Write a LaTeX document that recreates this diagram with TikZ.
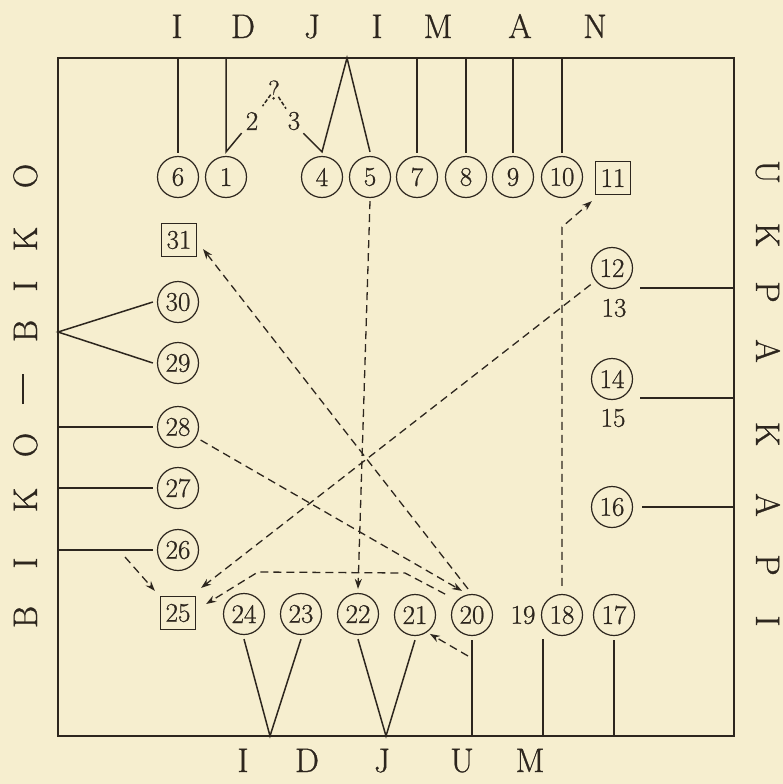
\documentclass[tikz,border=0pt]{standalone}
\usepackage{fontspec}
\newfontfamily\inkfont{Latin Modern Roman}[FakeBold=0.8,Ligatures=TeX]
\usetikzlibrary{arrows.meta,calc}
\definecolor{paper}{RGB}{246,238,207}
\definecolor{ink}{RGB}{45,38,30}
\begin{document}
\begin{tikzpicture}[x=1pt,y=-1pt,
  every node/.style={text=ink},
  circ/.style={circle,draw=ink,line width=1.2pt,minimum size=41pt,inner sep=0pt,font=\inkfont\fontsize{27}{27}\selectfont},
  sq/.style={rectangle,draw=ink,line width=1.2pt,minimum width=35pt,minimum height=33pt,inner sep=0pt,font=\inkfont\fontsize{27}{27}\selectfont},
  num/.style={inner sep=0pt,font=\inkfont\fontsize{27}{27}\selectfont},
  big/.style={inner sep=0pt,font=\inkfont\fontsize{34}{34}\selectfont},
  sline/.style={draw=ink,line width=1.5pt},
  dline/.style={draw=ink,line width=1.3pt,dash pattern=on 8pt off 5pt},
  arr/.style={dline,-{Stealth[length=10pt,width=7pt]}},
]
\fill[paper] (0,0) rectangle (783,784);
\useasboundingbox (0,0) rectangle (783,784);
\node[draw=ink,line width=2pt,minimum width=676pt,minimum height=678pt,inner sep=0pt,outer sep=0pt] (frame) at (396,397) {};

% border lettering
\foreach \l/\x [count=\i] in {I/177,D/243,J/312,I/377,M/438,A/520,N/595}
  \node[big,anchor=base] (T\i) at (\x,38) {\l};
\foreach \l/\x [count=\i] in {I/243,D/307,J/382,U/462,M/530}
  \node[big,anchor=base] (B\i) at (\x,772) {\l};
\foreach \l/\y [count=\i] in {B/617,I/563,K/500,O/445,{\rule[13pt]{30pt}{1.8pt}}/389,B/331,I/286,K/239,O/176}
  \node[big,anchor=base,rotate=90] (L\i) at (37,\y) {\l};
\foreach \l/\y [count=\i] in {U/172,K/235,P/292,A/351,K/434,A/505,P/565,I/621}
  \node[big,anchor=base,rotate=-90] (R\i) at (756,\y) {\l};

% top row
\node[circ] (n6) at (178,177) {6};
\node[circ] (n1) at (226,177) {1};
\node[circ] (n4) at (322,177) {4};
\node[circ] (n5) at (370,177) {5};
\node[circ] (n7) at (417,177) {7};
\node[circ] (n8) at (466,177) {8};
\node[circ] (n9) at (513,177) {9};
\node[circ] (n10) at (562,177) {10};
\node[sq] (n11) at (613,178) {11};
\node[num] (q2) at (252,121) {2};
\node[num] (qq) at (274,90) {?};
\node[num] (q3) at (294,121) {3};

% left column
\node[sq] (n31) at (179,240) {31};
\node[circ] (n30) at (178,302) {30};
\node[circ] (n29) at (178,363) {29};
\node[circ] (n28) at (178,427) {28};
\node[circ] (n27) at (178,488) {27};
\node[circ] (n26) at (178,550) {26};
\node[sq] (n25) at (178,613) {25};

% bottom row
\node[circ] (n24) at (244,614) {24};
\node[circ] (n23) at (301,614) {23};
\node[circ] (n22) at (358,614) {22};
\node[circ] (n21) at (415,615) {21};
\node[circ] (n20) at (472,615) {20};
\node[num] (t19) at (523,615) {19};
\node[circ] (n18) at (562,615) {18};
\node[circ] (n17) at (614,615) {17};

% right column
\node[circ] (n12) at (612,268) {12};
\node[num] (t13) at (614,308) {13};
\node[circ] (n14) at (612,379) {14};
\node[num] (t15) at (613,418) {15};
\node[circ] (n16) at (612,507) {16};

% coordinates
\coordinate (apT) at (347,58);
\coordinate (vL) at (58,332);
\coordinate (apB1) at (270,736);
\coordinate (apB2) at (386,736);
\coordinate (c19) at (543,639);
\coordinate (c12) at (640,288);
\coordinate (c14) at (640,398);
\coordinate (b18) at (562,227);
\coordinate (c26) at (125,557);
\coordinate (h1) at (405,573);
\coordinate (h2) at (258,572);
\coordinate (c20) at (468,656);

% solid connectors, top
\foreach \n in {n6,n7,n8,n9,n10}
  \draw[sline] (\n.north |- frame.north) -- ([yshift=3pt]\n.north);
\draw[sline] (n1.north |- frame.north) -- ([yshift=4pt]n1.north) -- ([xshift=-4pt,yshift=-3pt]q2.south west);
\draw[sline] ([xshift=3pt,yshift=-3pt]q3.south east) -- ([yshift=4pt]n4.north) -- (apT) -- ([yshift=4pt]n5.north);
\draw[sline,dash pattern=on 4pt off 2pt] ($(qq)!0.15!(q2)$) -- ($(qq)!0.52!(q2)$);
\draw[sline,dash pattern=on 4pt off 2pt] ($(qq)!0.22!(q3)$) -- ($(qq)!0.6!(q3)$);

% solid connectors, left
\draw[sline] ([xshift=-4pt]n30.west) -- (vL) -- ([xshift=-4pt]n29.west);
\foreach \n in {n28,n27,n26}
  \draw[sline] (\n.west -| frame.west) -- ([xshift=-4pt]\n.west);

% solid connectors, bottom
\draw[sline] ([yshift=-4pt]n24.south) -- (apB1) -- ([yshift=-4pt]n23.south);
\draw[sline] ([yshift=-4pt]n22.south) -- (apB2) -- ([yshift=-4pt]n21.south);
\draw[sline] ([yshift=-4pt]n20.south) -- (n20.south |- frame.south);
\draw[sline] (c19) -- (c19 |- frame.south);
\draw[sline] ([yshift=-4pt]n17.south) -- (n17.south |- frame.south);

% solid connectors, right
\draw[sline] (c12) -- (c12 -| frame.east);
\draw[sline] (c14) -- (c14 -| frame.east);
\draw[sline] ([xshift=9pt]n16.east) -- (n16.east -| frame.east);

% dashed arrows
\draw[arr] ([yshift=-3pt]n5.south) -- ([yshift=4pt]n22.north);
\draw[arr] ([yshift=8pt]n18.north) -- (b18) -- ([xshift=-3pt,yshift=-6pt]n11.south west);
\draw[arr,shorten <=6pt] (n12) -- ([xshift=5pt,yshift=8pt]n25.north east);
\draw[arr] ([xshift=-4pt,yshift=5pt]n20.north) -- ([xshift=6pt,yshift=8pt]n31.south east);
\draw[arr,shorten <=5pt] (n28) -- ([xshift=-10pt,yshift=3pt]n20.north);
\draw[arr] (c26) -- ([xshift=-5pt,yshift=5pt]n25.north west);
\draw[arr] ([xshift=-12pt,yshift=6pt]n20.north west) -- (h1) -- (h2) -- ([xshift=10pt,yshift=9pt]n25.east);
\draw[arr] (c20) -- ([yshift=-4pt]n21.south east);
\end{tikzpicture}
\end{document}
